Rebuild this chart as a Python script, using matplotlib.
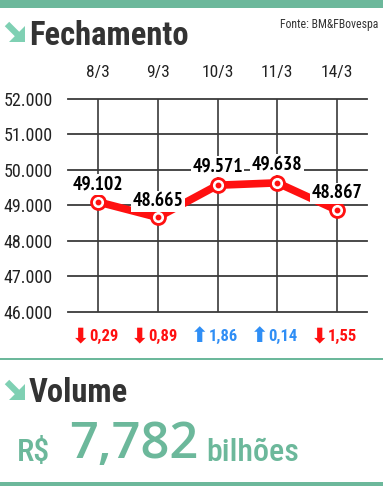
import matplotlib
matplotlib.use("Agg")
import matplotlib.pyplot as plt
from matplotlib.patches import Rectangle, Polygon
from matplotlib.lines import Line2D

dates = ["8/3", "9/3", "10/3", "11/3", "14/3"]
values = [49102, 48665, 49571, 49638, 48867]
value_labels = ["49.102", "48.665", "49.571", "49.638", "48.867"]
changes = ["0,29", "0,89", "1,86", "0,14", "1,55"]
change_up = [False, False, True, True, False]
yticks = [46000, 47000, 48000, 49000, 50000, 51000, 52000]
ytick_labels = ["46.000", "47.000", "48.000", "49.000", "50.000", "51.000", "52.000"]
volume_text = "7,782"

W, H = 383, 486
DPI = 100
fig = plt.figure(figsize=(W / DPI, H / DPI), dpi=DPI)
fig.patch.set_facecolor("white")

GREEN = "#6cb89b"
LIGHT_GREEN = "#7fd0b3"
DARK = "#333333"
RED = "#ff1010"
BLUE = "#2f8ef5"
COND = ["Roboto Condensed", "DejaVu Sans"]
NARROW = ["PT Sans Narrow", "Roboto Condensed", "DejaVu Sans"]
WIDE = ["Open Sans", "DejaVu Sans"]


def fx(px):
    return px / W


def fy(py):
    return 1 - py / H


# Decorations
fig.patches.append(Rectangle((0, fy(8)), 1, 8 / H, transform=fig.transFigure,
                             facecolor=GREEN, edgecolor="none"))
fig.patches.append(Rectangle((0, fy(360)), 1, 2.5 / H, transform=fig.transFigure,
                             facecolor=GREEN, edgecolor="none"))
fig.patches.append(Rectangle((0, fy(486)), 1, 4.5 / H, transform=fig.transFigure,
                             facecolor=GREEN, edgecolor="none"))


def icon(x0, y0):
    fig.lines.append(Line2D([fx(x0 + 2), fx(x0 + 14)], [fy(y0 + 2), fy(y0 + 14)],
                            transform=fig.transFigure, color=LIGHT_GREEN, lw=4.5,
                            solid_capstyle="butt"))
    fig.patches.append(Polygon([(fx(x0 + 20), fy(y0 + 4)), (fx(x0 + 20), fy(y0 + 20)),
                                (fx(x0 + 4), fy(y0 + 20))],
                               transform=fig.transFigure, facecolor=LIGHT_GREEN,
                               edgecolor="none"))


icon(5, 22)
icon(5, 380)

fig.text(fx(29), fy(45), "Fechamento", fontsize=23.5, fontweight="bold",
         family=COND, color=DARK, ha="left", va="baseline")
fig.text(fx(378), fy(28), "Fonte: BM&FBovespa", fontsize=8.5,
         family=COND, color=DARK, ha="right", va="baseline")
fig.text(fx(29), fy(402), "Volume", fontsize=23.5, fontweight="bold",
         family=COND, color=DARK, ha="left", va="baseline")
fig.text(fx(17), fy(461), "R$", fontsize=23, fontweight="medium",
         family=COND, color=GREEN, ha="left", va="baseline")
fig.text(fx(69), fy(458), volume_text, fontsize=36.5, fontweight="semibold",
         family=WIDE, color=GREEN, ha="left", va="baseline")
fig.text(fx(206), fy(461), "bilhões", fontsize=23, fontweight="medium",
         family=COND, color=GREEN, ha="left", va="baseline")

# Chart axes
left, right = 68, 367
top, bottom = 99, 312
ax = fig.add_axes([fx(left), fy(bottom), (right - left) / W, (bottom - top) / H])
ax.set_xlim(-0.5, len(dates) - 0.5)
ax.set_ylim(yticks[0], yticks[-1])
for s in ax.spines.values():
    s.set_visible(False)
ax.set_facecolor("none")

xs = list(range(len(dates)))
for y in yticks:
    ax.axhline(y, color="#3a3a3a", lw=1.3, zorder=1, clip_on=False)
ax.vlines(xs, yticks[0], yticks[-1], color="#3a3a3a", lw=1.2, zorder=1)

ax.set_yticks(yticks)
ax.set_yticklabels(ytick_labels, family=COND, fontsize=13, color="#222222")
ax.tick_params(axis="y", length=0, pad=11)
ax.xaxis.tick_top()
ax.set_xticks(xs)
ax.set_xticklabels(dates, family=COND, fontsize=12.5, color="#222222")
ax.tick_params(axis="x", length=0, pad=13.5)

ax.plot(xs, values, color=RED, lw=5.5, zorder=3, solid_joinstyle="round")
ax.plot(xs, values, "o", ms=11, color=RED, zorder=4)
ax.plot(xs, values, "o", ms=7, color="white", zorder=5)
ax.plot(xs, values, "o", ms=3.2, color=RED, zorder=6)

offsets = [17, 16, 19, 18, 17]
for x, v, lab, off in zip(xs, values, value_labels, offsets):
    ax.annotate(lab, (x, v), xytext=(0, off * 72 / DPI), textcoords="offset points",
                ha="center", va="center", fontsize=14, fontweight="bold",
                family=NARROW, color="black", zorder=7,
                bbox=dict(boxstyle="square,pad=0.08", facecolor="white", edgecolor="none"))

for x, ch, up in zip(xs, changes, change_up):
    col = BLUE if up else RED
    arrow = "\u2b06" if up else "\u2b07"
    ax.annotate(arrow, (x, yticks[0]), xytext=(-9 * 72 / DPI, -24 * 72 / DPI),
                textcoords="offset points", ha="right", va="center",
                fontsize=15, fontweight="bold", family=["DejaVu Sans"], color=col,
                annotation_clip=False)
    ax.annotate(ch, (x, yticks[0]), xytext=(-9 * 72 / DPI, -24 * 72 / DPI),
                textcoords="offset points", ha="left", va="center",
                fontsize=12, fontweight="bold", family=COND, color=col,
                annotation_clip=False)

fig.savefig("out.png", dpi=DPI)
